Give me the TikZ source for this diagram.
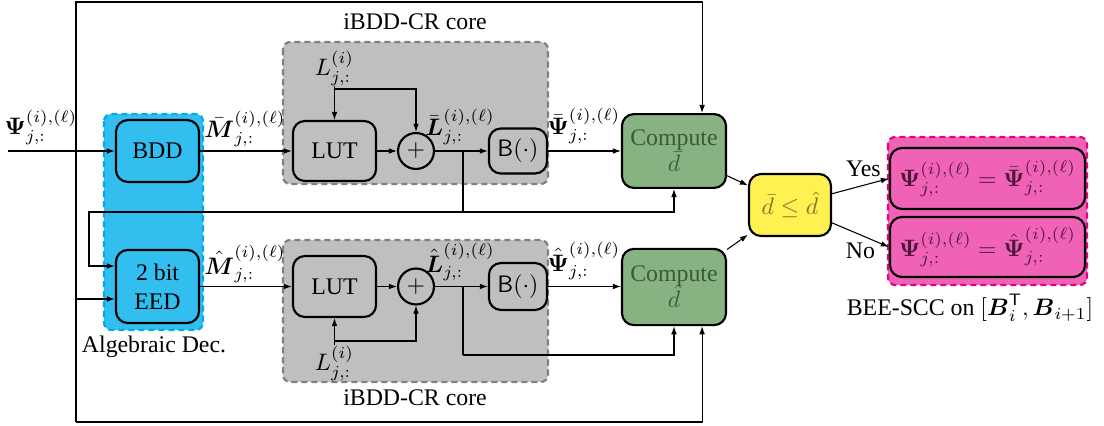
\documentclass[tikz,border=0pt]{standalone}
\usepackage{amsmath,amssymb}
\usepackage{fontspec}
\setmainfont{Liberation Serif}
\usetikzlibrary{arrows.meta,calc}
\definecolor{bluef}{RGB}{51,190,240}
\definecolor{blued}{RGB}{0,172,232}
\definecolor{grayf}{RGB}{191,191,191}
\definecolor{grayd}{RGB}{128,128,128}
\definecolor{greenf}{RGB}{135,178,130}
\definecolor{greent}{RGB}{62,88,60}
\definecolor{yellowf}{RGB}{255,241,82}
\definecolor{yellowt}{RGB}{128,118,40}
\definecolor{pinkf}{RGB}{240,98,182}
\definecolor{pinkd}{RGB}{228,0,128}
\definecolor{pinkt}{RGB}{78,22,58}
\begin{document}
\begin{tikzpicture}[x=0.42pt,y=-0.42pt,
  >={Latex[length=3.4pt,width=2.4pt]}, line width=0.45pt,
  blk/.style={draw, line width=0.9pt, rounded corners=5pt, align=center, inner sep=1pt},
  region/.style={line width=0.9pt, dash pattern=on 2.6pt off 1.6pt, rounded corners=3pt},
  lbl/.style={inner sep=0pt}]
\useasboundingbox (0,0) rectangle (1104,426);

% regions
\filldraw[region, fill=bluef, draw=blued] (104,114) rectangle (203,330);
\filldraw[region, fill=grayf, draw=grayd] (283,42) rectangle (548,184);
\filldraw[region, fill=grayf, draw=grayd] (283,240) rectangle (548,382);
\filldraw[region, fill=pinkf, draw=pinkd] (888,137) rectangle (1087,285);

% blocks
\node[blk, fill=bluef, minimum width=34.9pt, minimum height=26pt] (bdd) at (157.5,151) {BDD};
\node[blk, fill=bluef, minimum width=34.9pt, minimum height=30.7pt] (eed) at (157.5,286.5) {2 bit\\EED};
\node[blk, fill=grayf, minimum width=34.9pt, minimum height=25.2pt] (luta) at (334.5,151) {LUT};
\node[draw, circle, line width=0.9pt, fill=grayf, minimum size=15.1pt, inner sep=0pt] (pla) at (416,151) {$+$};
\node[blk, fill=grayf, minimum width=24.4pt, minimum height=18.9pt] (bfa) at (518,151) {$\mathsf{B}(\cdot)$};
\node[blk, fill=grayf, minimum width=34.9pt, minimum height=25.6pt] (lutb) at (334.5,286.5) {LUT};
\node[draw, circle, line width=0.9pt, fill=grayf, minimum size=15.1pt, inner sep=0pt] (plb) at (416,286.5) {$+$};
\node[blk, fill=grayf, minimum width=24.4pt, minimum height=19.7pt] (bfb) at (518,286.5) {$\mathsf{B}(\cdot)$};
\node[blk, fill=greenf, text=greent, minimum width=43.7pt, minimum height=31pt] (cpa) at (674,151) {Compute\\[-1pt]$\bar{d}$};
\node[blk, fill=greenf, text=greent, minimum width=43.7pt, minimum height=32pt] (cpb) at (674,287) {Compute\\[-1pt]$\hat{d}$};
\node[blk, fill=yellowf, text=yellowt, minimum width=34.4pt, minimum height=26pt] (cmp) at (790,205) {$\bar{d}\leq\hat{d}$};
\node[blk, fill=pinkf, text=pinkt, minimum width=81.9pt, minimum height=25.6pt] (psa) at (987.5,178.5)
  {$\boldsymbol{\Psi}_{j,:}^{(i),(\ell)}=\bar{\boldsymbol{\Psi}}_{j,:}^{(i),(\ell)}$};
\node[blk, fill=pinkf, text=pinkt, minimum width=81.9pt, minimum height=25.2pt] (psb) at (987.5,247)
  {$\boldsymbol{\Psi}_{j,:}^{(i),(\ell)}=\hat{\boldsymbol{\Psi}}_{j,:}^{(i),(\ell)}$};

% labels
\node[lbl] (lpsi) at (41,127) {$\boldsymbol{\Psi}_{j,:}^{(i),(\ell)}$};
\node[lbl] (lmb) at (245,129) {$\bar{\boldsymbol{M}}_{j,:}^{(i),(\ell)}$};
\node[lbl] (lmh) at (245,264) {$\hat{\boldsymbol{M}}_{j,:}^{(i),(\ell)}$};
\node[lbl] (llb) at (460,127) {$\bar{\boldsymbol{L}}_{j,:}^{(i),(\ell)}$};
\node[lbl] (llh) at (460,262) {$\hat{\boldsymbol{L}}_{j,:}^{(i),(\ell)}$};
\node[lbl] (lpb) at (584,126) {$\bar{\boldsymbol{\Psi}}_{j,:}^{(i),(\ell)}$};
\node[lbl] (lph) at (584,261) {$\hat{\boldsymbol{\Psi}}_{j,:}^{(i),(\ell)}$};
\node[lbl] (lla) at (334.5,68) {$L_{j,:}^{(i)}$};
\node[lbl] (llo) at (334.5,363) {$L_{j,:}^{(i)}$};
\node (t1) at (415,22) {iBDD-CR core};
\node (t2) at (415,398) {iBDD-CR core};
\node (t3) at (154,347) {Algebraic Dec.};
\node (t4) at (970,308) {BEE-SCC on $[\boldsymbol{B}_i^{\mathsf{T}},\boldsymbol{B}_{i+1}]$};

% coordinates
\coordinate (cin) at (8,151);
\coordinate (ftl) at (76,2);
\coordinate (fbl) at (76,422);
\coordinate (fe) at (76,299);
\coordinate (ja) at (463,151);
\coordinate (jad) at (463,212);
\coordinate (fbk) at (89,212);
\coordinate (fbi) at (89,266);
\coordinate (jb) at (463,286.5);
\coordinate (jbd) at (463,355);
\coordinate (bra) at (334.5,89);
\coordinate (brb) at (334.5,341);

% connectors
\draw[->] (cin) -- (bdd);
\draw[->] (fbl) -- (ftl) -| ([xshift=11.8pt]cpa.north);
\draw[->] (fbl) -| ([xshift=11.8pt]cpb.south);
\draw[->] (fe) -- (fe -| eed.west);
\draw[->] (bdd) -- (luta);
\draw[->] (luta) -- (pla);
\draw[->] (pla) -- (bfa);
\draw[->] (bfa) -- (cpa);
\draw[->] (lla) -- (luta);
\draw[->] (bra) -| (pla);
\draw (ja) -- (jad);
\draw[->] (jad) -| (cpa);
\draw[->] (jad) -- (fbk) -- (fbi) -- (fbi -| eed.west);
\draw[->] (eed) -- (lutb);
\draw[->] (lutb) -- (plb);
\draw[->] (plb) -- (bfb);
\draw[->] (bfb) -- (bfb.east -| cpb.west);
\draw[->] (llo) -- (lutb);
\draw[->] (brb) -| (plb);
\draw (jb) -- (jbd);
\draw[->] (jbd) -| (cpb);
\draw[->] (cpa) -- (cmp);
\draw[->] (cpb) -- (cmp);
\draw[->] (cmp) -- node[above, pos=0.55] {Yes} (psa.west);
\draw[->] (cmp) -- node[below, pos=0.5] {No} (psb.west);
\end{tikzpicture}
\end{document}
